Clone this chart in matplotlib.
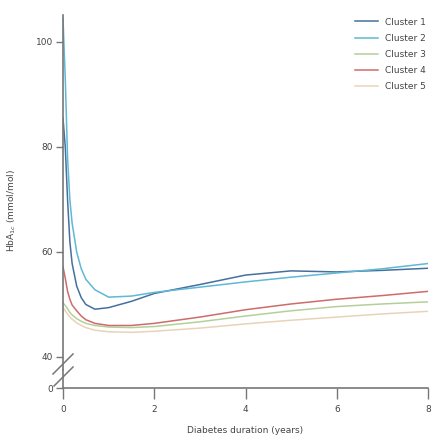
import numpy as np
import matplotlib.pyplot as plt
from matplotlib.lines import Line2D

# Data
years = [0, 0.05, 0.1, 0.15, 0.2, 0.3, 0.4, 0.5, 0.7, 1.0, 1.5, 2, 3, 4, 5, 6, 7, 8]
cluster1 = [85.5, 80, 70, 62, 57.8, 53.5, 51.3, 50.0, 49.1, 49.4, 50.6, 52.1, 53.8, 55.6, 56.4, 56.2, 56.5, 56.9]
cluster2 = [104.5, 93, 78, 70, 65.5, 60, 56.8, 54.8, 52.8, 51.4, 51.6, 52.3, 53.3, 54.3, 55.2, 56.0, 56.8, 57.8]
cluster3 = [50.3, 49.8, 49.2, 48.5, 48.0, 47.3, 46.8, 46.4, 46.0, 45.7, 45.6, 45.8, 46.7, 47.8, 48.8, 49.6, 50.1, 50.5]
cluster4 = [57.2, 55, 52.5, 51, 49.9, 48.8, 47.8, 47.1, 46.4, 46.0, 46.0, 46.4, 47.6, 49.0, 50.1, 51.0, 51.7, 52.5]
cluster5 = [49.4, 48.8, 48.2, 47.6, 47.2, 46.5, 46.0, 45.6, 45.1, 44.8, 44.7, 44.9, 45.5, 46.3, 47.0, 47.6, 48.2, 48.7]

labels = ['Cluster 1', 'Cluster 2', 'Cluster 3', 'Cluster 4', 'Cluster 5']
colors = ['#46709c', '#5fb8d5', '#b5cf9a', '#cf6b6b', '#e9d3b8']
series = [cluster1, cluster2, cluster3, cluster4, cluster5]

xticks = [0, 2, 4, 6, 8]
yticks = [40, 60, 80, 100]

plt.rcParams['font.family'] = 'DejaVu Sans'
plt.rcParams['font.size'] = 6.5
grey = '#777777'
tc = '#444444'

fig = plt.figure(figsize=(4.32, 4.37), dpi=100)
ax = fig.add_axes([63/432, 67/437, 365/432, 355/437])      # upper part (40+)
axb = fig.add_axes([63/432, 49/437, 365/432, 18/437])      # lower part (0)

for s, c, l in zip(series, colors, labels):
    ax.plot(years, s, color=c, lw=1.1, label=l)

ax.set_xlim(0, 8)
ax.set_ylim(37.52, 105.14)
ax.set_yticks(yticks)
ax.set_xticks([])
for sp in ['top', 'right', 'bottom']:
    ax.spines[sp].set_visible(False)

axb.set_xlim(0, 8)
axb.set_ylim(0, 3.43)
axb.set_yticks([0])
axb.set_xticks(xticks)
for sp in ['top', 'right']:
    axb.spines[sp].set_visible(False)

for a in [ax, axb]:
    for sp in ['left', 'bottom']:
        a.spines[sp].set_color(grey)
        a.spines[sp].set_linewidth(1.2)
    a.tick_params(colors=grey, labelcolor=tc, length=5, width=1, pad=2, labelsize=6.5)
axb.tick_params(axis='x', length=8, pad=4)

axb.set_xlabel('Diabetes duration (years)', color=tc, labelpad=9)
fig.text(12/432, 0.519, 'HbA$_{1c}$ (mmol/mol)', rotation=90, color=tc,
         ha='center', va='center')

# axis break marks
for (x0, y0, x1, y1) in [(53, 374, 73, 354), (54, 386, 73, 367)]:
    fig.add_artist(Line2D([x0/432, x1/432], [1 - y0/437, 1 - y1/437],
                          transform=fig.transFigure, color=grey, lw=1.1))

leg = ax.legend(loc='upper left', bbox_to_anchor=(350/432, 1 - 13/437),
                bbox_transform=fig.transFigure, frameon=False, borderpad=0,
                handlelength=2.55, handletextpad=0.78, labelspacing=0.8)
for t in leg.get_texts():
    t.set_color(tc)

fig.savefig('out.png', dpi=100)
